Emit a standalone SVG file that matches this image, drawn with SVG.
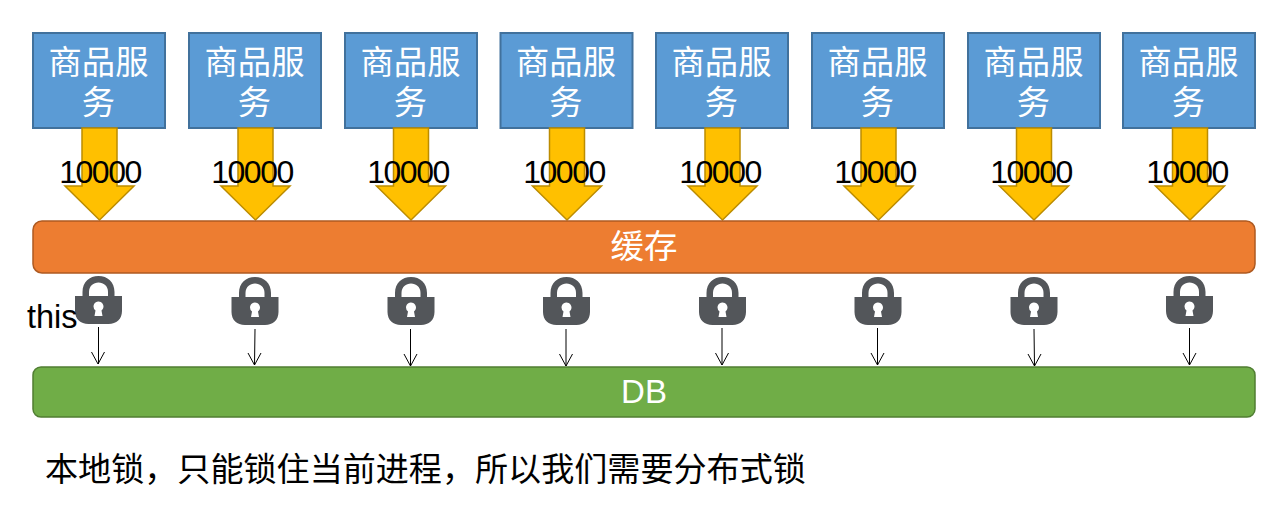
<svg xmlns="http://www.w3.org/2000/svg" xmlns:xlink="http://www.w3.org/1999/xlink" width="1282" height="509" viewBox="0 0 1282 509">
<style>
text{font-family:"Liberation Sans","Noto Sans CJK SC",sans-serif}
.box{fill:#5b9bd5;stroke:#41719c;stroke-width:2}
.cn{fill:#fff;font-size:33.300px;text-anchor:middle}
.arrow{fill:#ffc000;stroke:#bc8c00;stroke-width:1.500}
.num{fill:#000;font-size:32px;text-anchor:middle;letter-spacing:-1.500px}
.conn{stroke:#000;stroke-width:1;fill:none}
.bar{stroke-width:1.500}
.lock{fill:#53565a}
</style>
<defs>
<g id="svc">
<rect class="box" x="-66" y="0" width="132" height="95"/>
<text class="cn" x="-.5" y="41">商品服</text>
<text class="cn" x="-.5" y="81">务</text>
</g>
<path id="down" class="arrow" d="M-17.500 95H17.500V153H34.500L0 187L-34.500 153H-17.500Z"/>
<g id="lock">
<path class="lock" fill-rule="evenodd" d="M-23.500 9H-16V5C-16-5-9-11 0-11S16-5 16 5V9H23.500V24C23.500 32 18 37 10 37H-10C-18 37-23.500 32-23.500 24ZM-9.500 9H9.500V5C9.500-1 5-4.500 0-4.500S-9.500-1-9.500 5Z"/>
<path fill="#fff" d="M-5 19.500A5 5 0 1 1 3 23.500L4 29H-4L-3 23.500A5 5 0 0 1-5 19.500Z"/>
</g>
<path id="tip" class="conn" d="M-6.500-12L0 0L6.500-12"/>
</defs>

<g id="services">
<g id="service-1"><use href="#svc" x="99" y="33"/></g>
<g id="service-2"><use href="#svc" x="255" y="33"/></g>
<g id="service-3"><use href="#svc" x="411" y="33"/></g>
<g id="service-4"><use href="#svc" x="566.500" y="33"/></g>
<g id="service-5"><use href="#svc" x="722" y="33"/></g>
<g id="service-6"><use href="#svc" x="878" y="33"/></g>
<g id="service-7"><use href="#svc" x="1034" y="33"/></g>
<g id="service-8"><use href="#svc" x="1189" y="33"/></g>
</g>

<g id="connectors">
<use href="#down" x="99.500" y="33"/>
<use href="#down" x="255.500" y="33"/>
<use href="#down" x="411" y="33"/>
<use href="#down" x="567" y="33"/>
<use href="#down" x="722.500" y="33"/>
<use href="#down" x="878.500" y="33"/>
<use href="#down" x="1034" y="33"/>
<use href="#down" x="1190" y="33"/>
<g>
<path class="conn" d="M98.500 327V364"/><use href="#tip" x="98" y="364"/>
<path class="conn" d="M255 329L254.500 365"/><use href="#tip" x="254.500" y="365"/>
<path class="conn" d="M410.500 329V366"/><use href="#tip" x="410.500" y="366"/>
<path class="conn" d="M566 329V366"/><use href="#tip" x="566" y="366"/>
<path class="conn" d="M722 328V365"/><use href="#tip" x="722" y="365"/>
<path class="conn" d="M877.500 328V365"/><use href="#tip" x="877.500" y="365"/>
<path class="conn" d="M1034 329L1034.500 366"/><use href="#tip" x="1034.500" y="366"/>
<path class="conn" d="M1189.500 328V365"/><use href="#tip" x="1189.500" y="365"/>
</g>
</g>

<g id="counts">
<text class="num" x="100" y="183">10000</text>
<text class="num" x="252" y="183">10000</text>
<text class="num" x="408" y="183">10000</text>
<text class="num" x="564" y="183">10000</text>
<text class="num" x="720" y="183">10000</text>
<text class="num" x="875" y="183">10000</text>
<text class="num" x="1031" y="183">10000</text>
<text class="num" x="1187" y="183">10000</text>
</g>

<g id="cache">
<rect class="bar" x="33" y="221" width="1222" height="52" rx="9" fill="#ed7d31" stroke="#ae5a21"/>
<text x="644" y="258" fill="#fff" font-size="33.500" text-anchor="middle">缓存</text>
</g>

<g id="locks">
<use href="#lock" x="98.500" y="287"/>
<use href="#lock" x="255" y="288"/>
<use href="#lock" x="411" y="288"/>
<use href="#lock" x="566.500" y="288"/>
<use href="#lock" x="722.500" y="288"/>
<use href="#lock" x="878" y="288"/>
<use href="#lock" x="1034" y="288"/>
<use href="#lock" x="1189.500" y="287"/>
</g>

<text x="27" y="328" font-size="32.500" fill="#000">this</text>

<g id="db">
<rect class="bar" x="33" y="367" width="1222" height="50" rx="8" fill="#70ad47" stroke="#507e32"/>
<text x="644" y="403" fill="#fff" font-size="33" text-anchor="middle">DB</text>
</g>

<text x="45" y="481" font-size="33.100" fill="#000">本地锁，只能锁住当前进程，所以我们需要分布式锁</text>
</svg>
